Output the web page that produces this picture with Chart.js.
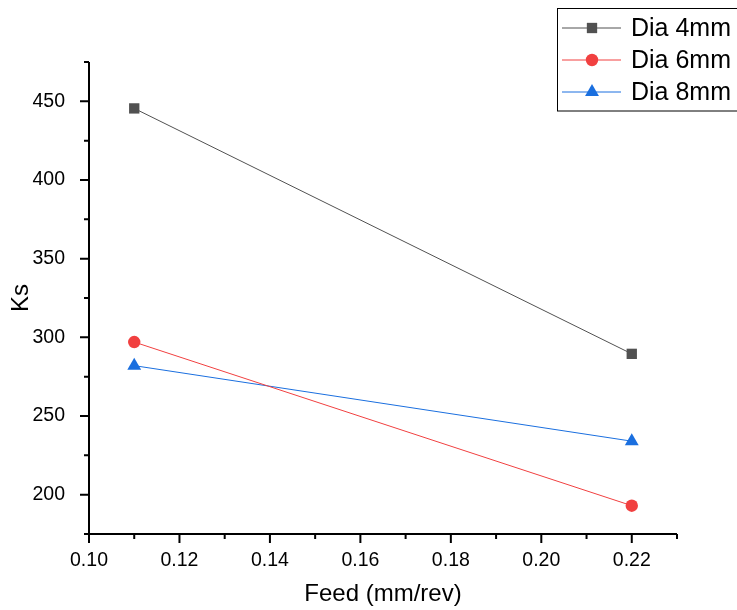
<!DOCTYPE html>
<html>
<head>
<meta charset="utf-8">
<script src="https://cdn.jsdelivr.net/npm/chart.js@4"></script>
<style>
  html, body { margin: 0; padding: 0; background: #fff; }
  #wrap { width: 737px; height: 610px; }
</style>
</head>
<body>
<div id="wrap"><canvas id="ksChart" width="737" height="610"></canvas></div>
<script>
// data
const feed = [0.11, 0.22];
const dia4 = [445.5, 289.5];
const dia6 = [297, 193];
const dia8 = [282, 234];
const seriesNames = ['Dia 4mm', 'Dia 6mm', 'Dia 8mm'];

const xMajor = [0.10, 0.12, 0.14, 0.16, 0.18, 0.20, 0.22];
const xMinor = [0.11, 0.13, 0.15, 0.17, 0.19, 0.21, 0.23];
const yMajor = [200, 250, 300, 350, 400, 450];
const yMinor = [175, 225, 275, 325, 375, 425, 475];

const colors = ['#515151', '#F14040', '#1A6FDF'];
const styles = ['rect', 'circle', 'triangle'];
const radii = [7.3, 6.2, 8];
const FONT = '"Liberation Sans", Arial, sans-serif';

function toPoints(ys) {
    return feed.map((x, i) => ({ x: x, y: ys[i] }));
}

const datasets = [dia4, dia6, dia8].map((ys, i) => ({
    label: seriesNames[i],
    data: toPoints(ys),
    showLine: true,
    borderColor: colors[i],
    backgroundColor: colors[i],
    borderWidth: 1,
    pointStyle: styles[i],
    pointRadius: radii[i],
    pointHoverRadius: radii[i],
    pointBackgroundColor: colors[i],
    pointBorderColor: colors[i],
    pointBorderWidth: 0
}));

// axis lines, major and minor ticks, and the boxed legend
const originAxes = {
    id: 'originAxes',
    afterDraw(chart) {
        const ctx = chart.ctx;
        const xs = chart.scales.x;
        const ys = chart.scales.y;
        const area = chart.chartArea;
        ctx.save();
        ctx.strokeStyle = '#000';
        ctx.lineWidth = 2;
        ctx.beginPath();
        ctx.moveTo(area.left, area.top);
        ctx.lineTo(area.left, area.bottom + 1);
        ctx.moveTo(area.left - 1, area.bottom);
        ctx.lineTo(area.right, area.bottom);
        xMajor.forEach(v => {
            const px = xs.getPixelForValue(v);
            ctx.moveTo(px, area.bottom);
            ctx.lineTo(px, area.bottom + 9);
        });
        xMinor.forEach(v => {
            const px = xs.getPixelForValue(v);
            ctx.moveTo(px, area.bottom);
            ctx.lineTo(px, area.bottom + 5);
        });
        yMajor.forEach(v => {
            const py = ys.getPixelForValue(v);
            ctx.moveTo(area.left, py);
            ctx.lineTo(area.left - 9, py);
        });
        yMinor.forEach(v => {
            const py = ys.getPixelForValue(v);
            ctx.moveTo(area.left, py);
            ctx.lineTo(area.left - 5, py);
        });
        ctx.stroke();

        // legend
        ctx.lineWidth = 1;
        ctx.strokeStyle = '#000';
        ctx.strokeRect(557.5, 8.5, 200, 102.5);
        seriesNames.forEach((name, i) => {
            const rowY = 28 + i * 32;
            ctx.strokeStyle = colors[i];
            ctx.fillStyle = colors[i];
            ctx.beginPath();
            ctx.moveTo(562, rowY);
            ctx.lineTo(621, rowY);
            ctx.stroke();
            Chart.helpers.drawPoint(ctx, {
                pointStyle: styles[i],
                radius: radii[i],
                rotation: 0,
                borderWidth: 0
            }, 592, rowY);
            ctx.fillStyle = '#000';
            ctx.font = '25px ' + FONT;
            ctx.textBaseline = 'middle';
            ctx.textAlign = 'left';
            ctx.fillText(name, 631, rowY + 1);
        });
        ctx.restore();
    }
};

new Chart(document.getElementById('ksChart'), {
    type: 'scatter',
    data: { datasets: datasets },
    options: {
        responsive: false,
        animation: false,
        layout: { padding: { top: 62, right: 60, left: 0, bottom: 0 } },
        plugins: {
            legend: { display: false },
            tooltip: { enabled: false }
        },
        scales: {
            x: {
                type: 'linear',
                min: 0.10,
                max: 0.23,
                afterFit(scale) { scale.height = 76; },
                afterBuildTicks(scale) { scale.ticks = xMajor.map(v => ({ value: v })); },
                grid: { display: false },
                border: { display: false },
                ticks: {
                    padding: 7,
                    color: '#000',
                    font: { family: FONT, size: 19.5 },
                    callback: v => v.toFixed(2)
                },
                title: {
                    display: true,
                    text: 'Feed (mm/rev)',
                    color: '#000',
                    font: { family: FONT, size: 24 },
                    padding: { top: 0, bottom: 1 }
                }
            },
            y: {
                type: 'linear',
                min: 175,
                max: 475,
                afterFit(scale) { scale.width = 89; },
                afterBuildTicks(scale) { scale.ticks = yMajor.map(v => ({ value: v })); },
                grid: { display: false },
                border: { display: false },
                ticks: {
                    padding: 16,
                    color: '#000',
                    font: { family: FONT, size: 19.5 },
                    callback: v => String(v)
                },
                title: {
                    display: true,
                    text: 'Ks',
                    color: '#000',
                    font: { family: FONT, size: 24 },
                    padding: { top: 7, bottom: 0 }
                }
            }
        }
    },
    plugins: [originAxes]
});
</script>
</body>
</html>
